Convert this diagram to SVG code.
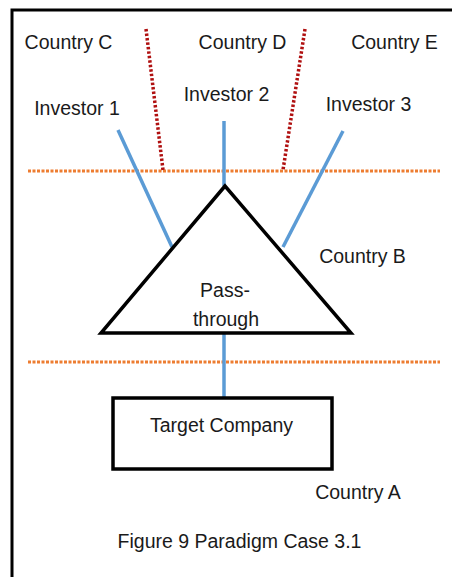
<svg xmlns="http://www.w3.org/2000/svg" width="452" height="577" viewBox="0 0 452 577">
  <defs>
    <style>
      .t { font-family: "Liberation Sans", Arial, sans-serif; font-size: 19.5px; fill: #1a1a1a; text-anchor: middle; }
      .blue { stroke: #5B9BD5; stroke-width: 3.5; fill: none; }
      .orange { stroke: #ED7D31; stroke-width: 3; stroke-dasharray: 3 1.5; fill: none; }
      .red { stroke: #B01010; stroke-width: 3.5; stroke-dasharray: 2.5 2; fill: none; }
      .shape { stroke: #000; stroke-width: 3.5; fill: #fff; }
    </style>
    <clipPath id="triClip">
      <rect x="0" y="0" width="452" height="331"/>
    </clipPath>
  </defs>
  <rect x="0" y="0" width="452" height="577" fill="#fff"/>
  <!-- outer frame -->
  <path d="M12,580 V10 H460" fill="none" stroke="#000" stroke-width="3"/>

  <g id="borders">
    <line class="orange" x1="28" y1="171" x2="440" y2="171"/>
    <line class="orange" x1="28" y1="362" x2="440" y2="362"/>
    <line class="red" x1="146" y1="29" x2="163" y2="170"/>
    <line class="red" x1="305" y1="29" x2="283" y2="170"/>
  </g>

  <g id="connectors">
    <line class="blue" x1="118" y1="130" x2="172" y2="247"/>
    <line class="blue" x1="224" y1="121" x2="224" y2="186"/>
    <line class="blue" x1="343" y1="131" x2="283" y2="247"/>
    <line class="blue" x1="224" y1="333" x2="224" y2="397"/>
  </g>

  <g id="labels">
    <text class="t" x="68.5" y="49">Country C</text>
    <text class="t" x="242.5" y="49">Country D</text>
    <text class="t" x="394.5" y="49">Country E</text>
    <text class="t" x="362.5" y="263">Country B</text>
    <text class="t" x="358" y="499">Country A</text>
  </g>

  <g id="investor1"><text class="t" x="77" y="115">Investor 1</text></g>
  <g id="investor2"><text class="t" x="226.5" y="101">Investor 2</text></g>
  <g id="investor3"><text class="t" x="368.5" y="111">Investor 3</text></g>

  <g id="passthrough">
    <polygon class="shape" points="225,186 101,333 351,333" stroke-linejoin="miter"/>
    <g clip-path="url(#triClip)">
      <text class="t" x="225" y="297">Pass-</text>
      <text class="t" x="226" y="326">through</text>
    </g>
  </g>

  <g id="target">
    <rect class="shape" x="113" y="398" width="219" height="71"/>
    <text class="t" x="221.5" y="432">Target Company</text>
  </g>

  <g id="caption">
    <text class="t" x="239.5" y="548">Figure 9 Paradigm Case 3.1</text>
  </g>
</svg>
